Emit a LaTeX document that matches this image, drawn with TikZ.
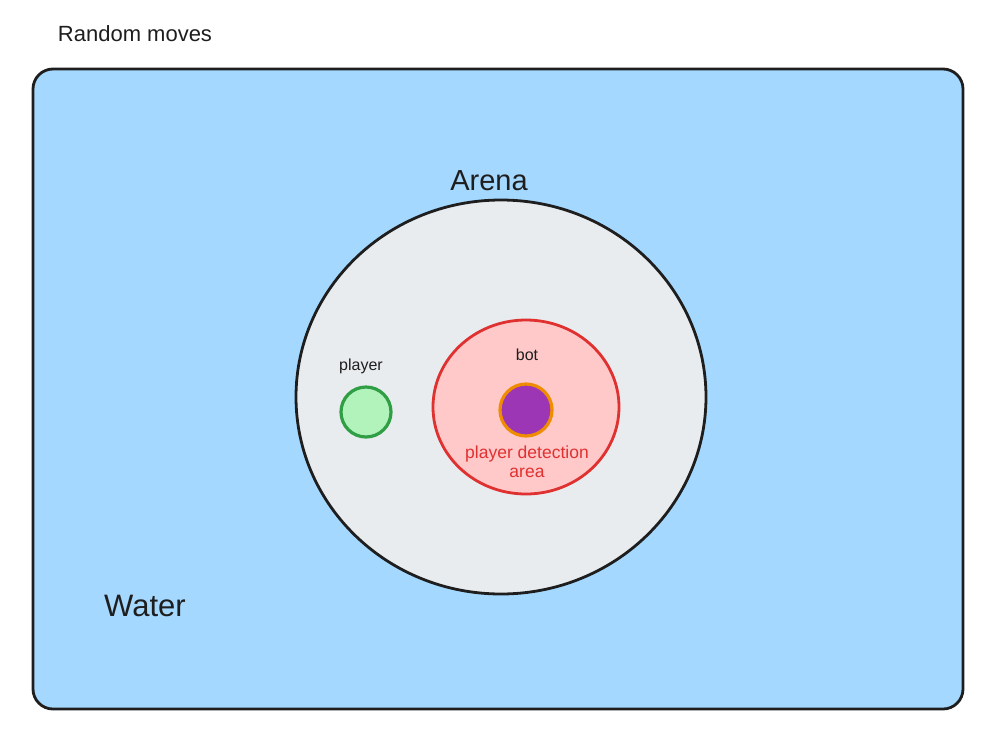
\documentclass[tikz,border=0pt]{standalone}
\usepackage{fontspec}
\setmainfont{Liberation Sans}
\definecolor{ink}{HTML}{1E1E1E}
\definecolor{water}{HTML}{A5D8FF}
\definecolor{arena}{HTML}{E9ECEF}
\definecolor{redfill}{HTML}{FFC9C9}
\definecolor{redline}{HTML}{E03131}
\definecolor{orangeline}{HTML}{F08C00}
\definecolor{purplefill}{HTML}{9C36B5}
\definecolor{greenfill}{HTML}{B2F2BB}
\definecolor{greenline}{HTML}{2F9E44}
\tikzset{
  shapeline/.style={line width=2.8pt, line join=round, line cap=round},
  lbl/.style={inner sep=0pt, text=ink}
}
\begin{document}
\begin{tikzpicture}[x=1pt,y=-1pt]
\useasboundingbox[fill=white] (0,0) rectangle (989,740);
% water
\draw[shapeline, draw=ink, fill=water, rounded corners=20pt] (33,69) rectangle (963,709);
% arena
\draw[shapeline, draw=ink, fill=arena] (501,397) ellipse [x radius=205, y radius=197];
% red detection area
\draw[shapeline, draw=redline, fill=redfill] (526,407) ellipse [x radius=93, y radius=87];
% bot
\draw[line width=3.2pt, draw=orangeline, fill=purplefill] (526,410) circle [radius=26];
% player
\draw[line width=3.2pt, draw=greenline, fill=greenfill] (366,412) circle [radius=25];
% labels
\node[lbl, font=\fontsize{22}{26}\selectfont] (rm) at (135,34) {Random moves};
\node[lbl, font=\fontsize{29}{34}\selectfont] (ar) at (489,181) {Arena};
\node[lbl, font=\fontsize{16}{19}\selectfont] (pl) at (361,366) {player};
\node[lbl, font=\fontsize{16}{19}\selectfont] (bt) at (527,355) {bot};
\node[lbl, font=\fontsize{17.5}{19}\selectfont, text=redline, align=center] (pd) at (527,462) {player detection\\area};
\node[lbl, font=\fontsize{31}{36}\selectfont] (wa) at (145,606) {Water};
\end{tikzpicture}
\end{document}
